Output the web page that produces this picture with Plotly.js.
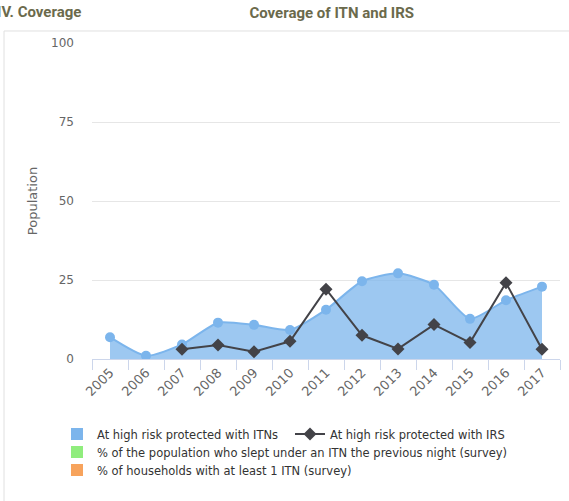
<!DOCTYPE html>
<html>
<head>
<meta charset="utf-8">
<script src="https://cdn.plot.ly/plotly-3.0.1.min.js"></script>
<style>
html,body{margin:0;padding:0;background:#fff;}
#chart{width:569px;height:501px;}
</style>
</head>
<body>
<div id="chart"></div>
<script>
const years = ["2005","2006","2007","2008","2009","2010","2011","2012","2013","2014","2015","2016","2017"];
const itnValues = [6.9, 1.0, 4.6, 11.5, 10.8, 9.2, 15.6, 24.6, 27.1, 23.5, 12.7, 18.6, 22.9];
const irsValues = [null, null, 3.1, 4.4, 2.3, 5.6, 22.1, 7.5, 3.2, 10.9, 5.2, 24.1, 3.1];
const seriesNames = [
  "At high risk protected with ITNs",
  "At high risk protected with IRS",
  "% of the population who slept under an ITN the previous night (survey)",
  "% of households with at least 1 ITN (survey)"
];
const emptySeries = years.map(() => null);

const traces = [
  {
    x: years, y: itnValues, type: "scatter", mode: "lines+markers",
    line: {shape: "spline", smoothing: 0.6, color: "#7cb5ec", width: 2},
    marker: {color: "#7cb5ec", size: 10, symbol: "circle"},
    fill: "tozeroy", fillcolor: "rgba(124,181,236,0.75)",
    showlegend: false, name: seriesNames[0], hoverinfo: "skip"
  },
  {
    x: years, y: emptySeries, type: "bar", name: seriesNames[0],
    marker: {color: "#7cb5ec"}, legend: "legend"
  },
  {
    x: years, y: irsValues, type: "scatter", mode: "lines+markers",
    name: seriesNames[1],
    line: {color: "#434348", width: 2},
    marker: {color: "#434348", size: 10, symbol: "diamond"},
    connectgaps: false, legend: "legend"
  },
  {
    x: years, y: emptySeries, type: "bar", name: seriesNames[2],
    marker: {color: "#90ed7d"}, legend: "legend2"
  },
  {
    x: years, y: emptySeries, type: "bar", name: seriesNames[3],
    marker: {color: "#f7a35c"}, legend: "legend3"
  }
];

const titleFont = {family: "Liberation Sans Narrow, Roboto, sans-serif", size: 15, color: "#6b6a4c", weight: "bold"};
const legendBase = {
  orientation: "h", xref: "paper", yref: "paper",
  x: -0.0748, xanchor: "left", yanchor: "middle",
  font: {size: 11.5, color: "#333333"},
  itemclick: false, itemdoubleclick: false, bgcolor: "rgba(0,0,0,0)"
};

const layout = {
  width: 569, height: 501,
  margin: {l: 92, r: 9, t: 43, b: 142, autoexpand: false},
  paper_bgcolor: "#fff", plot_bgcolor: "#fff",
  font: {family: "DejaVu Sans, sans-serif", color: "#666666", size: 11},
  title: {
    text: "Coverage of ITN and IRS",
    font: titleFont,
    x: 0.583, xanchor: "center", xref: "container",
    y: 0.985, yanchor: "top", yref: "container"
  },
  annotations: [{
    text: "IV. Coverage", xref: "paper", yref: "paper",
    x: -0.02, xanchor: "right", y: 1.097, yanchor: "middle",
    showarrow: false,
    font: titleFont
  }],
  shapes: [{
    type: "rect", xref: "paper", yref: "paper",
    x0: -0.188, x1: 1.05, y0: -0.6, y1: 1.038,
    line: {color: "#e0e0e0", width: 1}, fillcolor: "rgba(0,0,0,0)", layer: "below"
  }],
  xaxis: {
    type: "category", tickson: "boundaries",
    ticks: "outside", ticklen: 10, tickcolor: "#ccd6eb", tickwidth: 1,
    showline: true, linecolor: "#ccd6eb", linewidth: 1,
    showgrid: false, zeroline: false, automargin: false,
    tickangle: -45, tickfont: {size: 13, color: "#666666"},
    range: [-0.5, 12.5], fixedrange: true
  },
  yaxis: {
    range: [0, 100], tickvals: [0, 25, 50, 75, 100],
    showgrid: true, gridcolor: "#e6e6e6", gridwidth: 1,
    zeroline: false, showline: false, ticks: "", automargin: false,
    tickfont: {size: 12, color: "#666666"},
    ticklabelstandoff: 17,
    title: {text: "Population", font: {size: 13, color: "#666666"}, standoff: 10}
  },
  legend: Object.assign({}, legendBase, {y: (359 - 434) / 316, entrywidth: 188, traceorder: "normal"}),
  legend2: Object.assign({}, legendBase, {y: (359 - 452) / 316}),
  legend3: Object.assign({}, legendBase, {y: (359 - 470) / 316}),
  showlegend: true,
  hovermode: false
};

Plotly.newPlot("chart", traces, layout, {displayModeBar: false, staticPlot: true});
</script>
</body>
</html>
